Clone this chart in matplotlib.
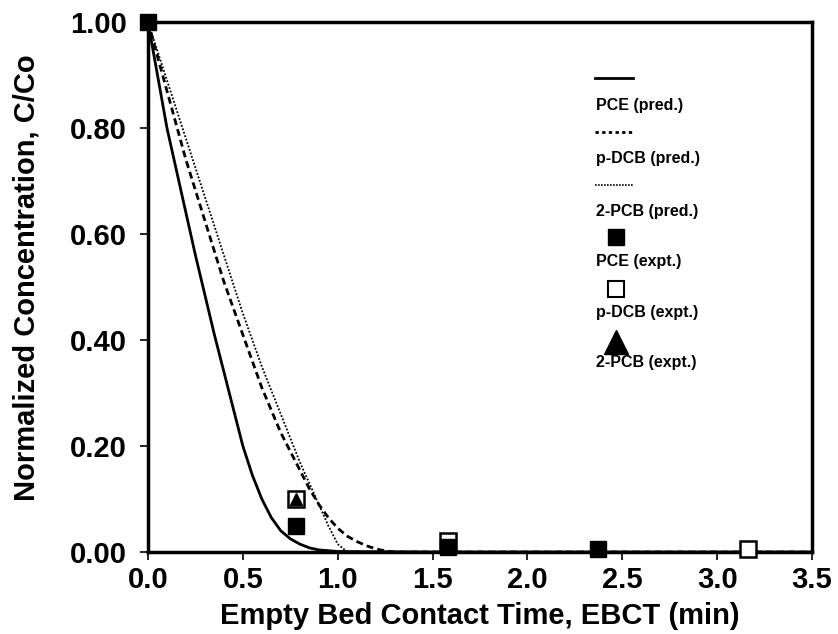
# plot.py
# Breakthrough-style plot: normalized concentration vs empty bed contact time
# for PCE, p-DCB and 2-PCB (model predictions and experimental points)

import matplotlib
matplotlib.use('Agg')
import matplotlib.pyplot as plt
from matplotlib.ticker import FormatStrFormatter

# Predicted curves
pce_pred_x = [0, 0.05, 0.10, 0.15, 0.20, 0.25, 0.30, 0.35, 0.40, 0.45, 0.50,
              0.55, 0.60, 0.65, 0.70, 0.75, 0.80, 0.85, 0.90, 1.0, 1.5, 2.0,
              2.5, 3.0, 3.5]
pce_pred_y = [1.0, 0.90, 0.80, 0.72, 0.64, 0.56, 0.485, 0.41, 0.34, 0.27, 0.20,
              0.145, 0.10, 0.065, 0.04, 0.025, 0.015, 0.008, 0.004, 0.001, 0.0,
              0.0, 0.0, 0.0, 0.0]

dcb_pred_x = [0, 0.1, 0.2, 0.3, 0.4, 0.5, 0.6, 0.7, 0.8, 0.85, 0.9, 0.95, 1.0,
              1.05, 1.1, 1.15, 1.2, 1.25, 1.3, 3.5]
dcb_pred_y = [1.0, 0.87, 0.74, 0.625, 0.51, 0.41, 0.31, 0.225, 0.155, 0.12,
              0.09, 0.065, 0.045, 0.03, 0.02, 0.012, 0.006, 0.002, 0.0, 0.0]

pcb_pred_x = [0, 0.1, 0.2, 0.3, 0.4, 0.5, 0.6, 0.7, 0.8, 0.85, 0.9, 0.95, 1.0,
              1.05, 3.5]
pcb_pred_y = [1.0, 0.89, 0.78, 0.67, 0.56, 0.45, 0.35, 0.26, 0.17, 0.13, 0.09,
              0.05, 0.015, 0.0, 0.0]

# Experimental points
pce_expt_x = [0, 0.78, 1.58, 2.37]
pce_expt_y = [1.0, 0.05, 0.01, 0.005]

dcb_expt_x = [0.78, 1.58, 3.16]
dcb_expt_y = [0.10, 0.02, 0.005]

pcb_expt_x = [0.78]
pcb_expt_y = [0.10]

x_ticks = [0.0, 0.5, 1.0, 1.5, 2.0, 2.5, 3.0, 3.5]
y_ticks = [0.0, 0.2, 0.4, 0.6, 0.8, 1.0]

plt.rcParams['font.family'] = ['Liberation Sans', 'DejaVu Sans']
plt.rcParams['font.weight'] = 'bold'

fig = plt.figure(figsize=(8.38, 6.34), dpi=100)
ax = fig.add_axes([0.1766, 0.1293, 0.7924, 0.836])

ax.plot(pce_pred_x, pce_pred_y, color='black', lw=2.0, ls='-')
ax.plot(dcb_pred_x, dcb_pred_y, color='black', lw=2.0, ls=(0, (2.5, 1.5)))
ax.plot(pcb_pred_x, pcb_pred_y, color='black', lw=1.3, ls=(0, (1, 1)))

ax.plot(dcb_expt_x, dcb_expt_y, ls='none', marker='s', ms=11, mfc='white',
        mec='black', mew=1.8, clip_on=False, zorder=5)
ax.plot(pcb_expt_x, pcb_expt_y, ls='none', marker='^', ms=8, mfc='black',
        mec='black', clip_on=False, zorder=6)
ax.plot(pce_expt_x, pce_expt_y, ls='none', marker='s', ms=11, mfc='black',
        mec='black', clip_on=False, zorder=7)

ax.set_xlim(0, 3.5)
ax.set_ylim(0, 1.0)
ax.set_xticks(x_ticks)
ax.set_yticks(y_ticks)
ax.xaxis.set_major_formatter(FormatStrFormatter('%.1f'))
ax.yaxis.set_major_formatter(FormatStrFormatter('%.2f'))
ax.tick_params(direction='out', length=6, width=1.2, labelsize=21)
ax.tick_params(axis='x', pad=4)
ax.tick_params(axis='y', pad=9)
for lab in ax.get_xticklabels() + ax.get_yticklabels():
    lab.set_fontweight('bold')

for sp in ax.spines.values():
    sp.set_linewidth(2.5)

ax.set_xlabel('Empty Bed Contact Time, EBCT (min)', fontsize=21,
              fontweight='bold', labelpad=6)
ax.set_ylabel('Normalized Concentration, C/Co', fontsize=21,
              fontweight='bold')
ax.yaxis.set_label_coords(-0.162, 0.517)

# Legend with the symbol drawn above each label
tr = ax.transAxes
lx0, lx1 = 0.673, 0.73
ax.plot([lx0, lx1], [0.895, 0.895], transform=tr, color='black', lw=2.0)
ax.plot([lx0, lx1], [0.792, 0.792], transform=tr, color='black', lw=2.0,
        ls=(0, (1.2, 1.2)))
ax.plot([lx0, lx1], [0.692, 0.692], transform=tr, color='black', lw=1.2,
        ls=(0, (1, 0.8)))
ax.plot([0.705], [0.594], transform=tr, marker='s', ms=11, color='black')
ax.plot([0.705], [0.496], transform=tr, marker='s', ms=11, mfc='white',
        mec='black', mew=1.5)
ax.plot([0.705], [0.397], transform=tr, marker='^', ms=17, color='black')

labels = ['PCE (pred.)', 'p-DCB (pred.)', '2-PCB (pred.)',
          'PCE (expt.)', 'p-DCB (expt.)', '2-PCB (expt.)']
label_y = [0.843, 0.742, 0.643, 0.549, 0.452, 0.358]
for txt, yy in zip(labels, label_y):
    ax.text(0.675, yy, txt, transform=tr, fontsize=11.5, fontweight='bold',
            va='center', ha='left')

plt.savefig('out.png', dpi=100)
